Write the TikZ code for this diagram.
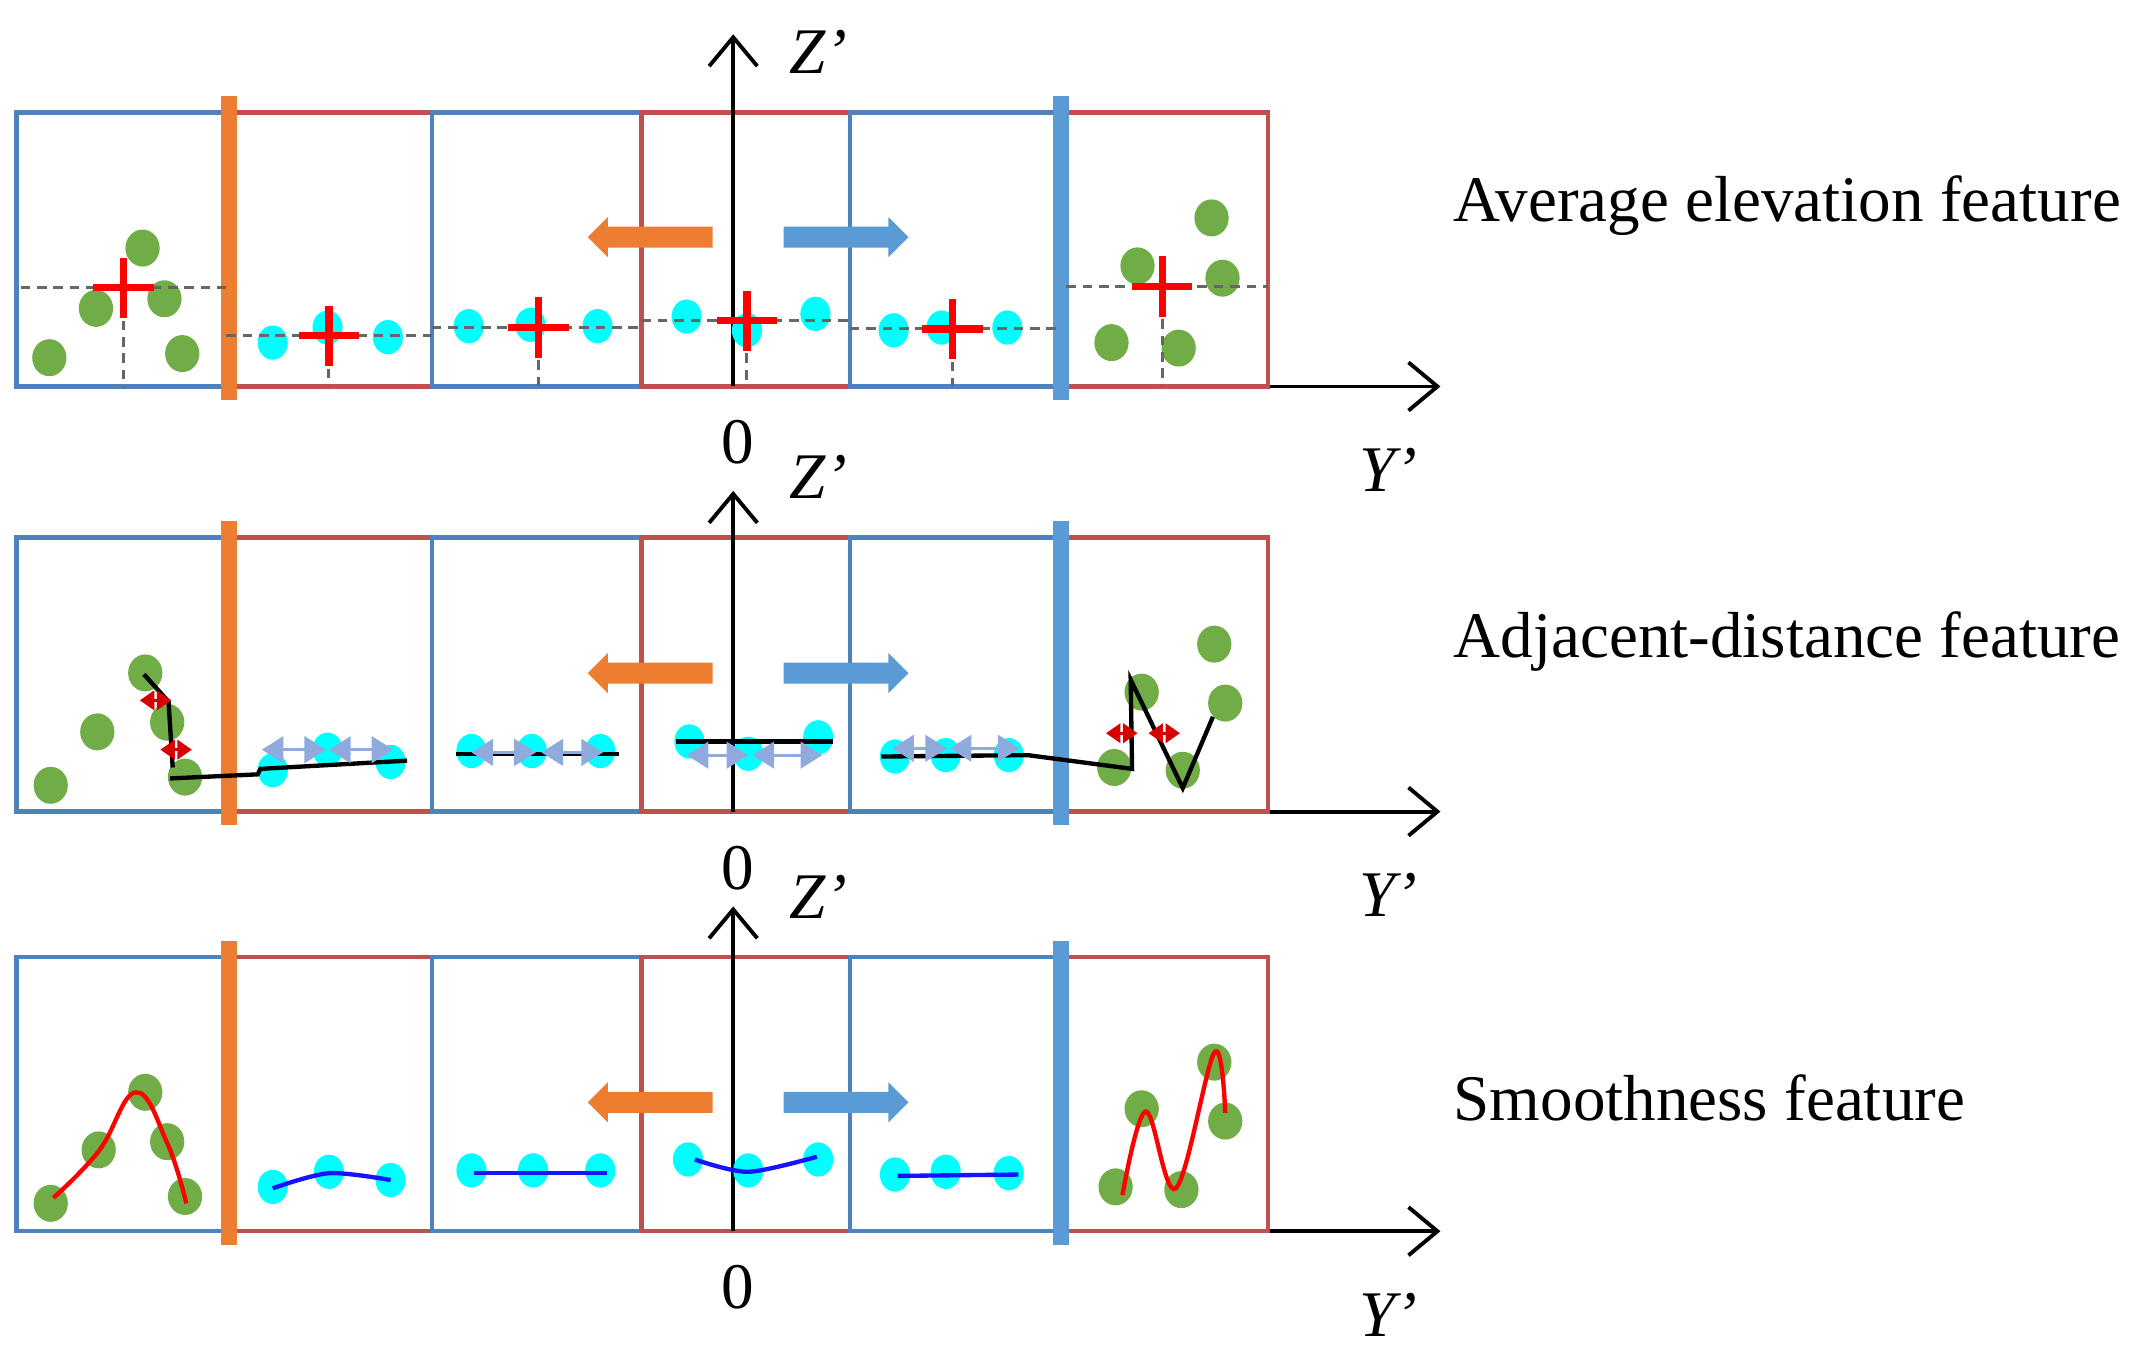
\documentclass[tikz,border=0pt]{standalone}
\usepackage{fontspec}
\setmainfont{Liberation Serif}
\usetikzlibrary{arrows.meta,shapes.arrows}
\definecolor{cellblue}{RGB}{79,129,189}
\definecolor{cellred}{RGB}{192,80,77}
\definecolor{barorange}{RGB}{237,125,49}
\definecolor{barblue}{RGB}{91,155,213}
\definecolor{dotgreen}{RGB}{112,173,71}
\definecolor{dotcyan}{RGB}{0,255,255}
\definecolor{gaplight}{RGB}{143,170,220}
\definecolor{fitblue}{RGB}{20,20,255}
\tikzset{%
  cell/.style={draw=#1, line width=0.9pt},% one window of the strip
  bar/.style={line width=3.4pt},% road edge
  axis/.style={line width=0.8pt, -{Straight Barb[length=6pt,width=10pt]}},
  label/.style={inner sep=0pt, font=\fontsize{13.5}{16}\selectfont},
  feature/.style={label, anchor=west},
  guide/.style={dash pattern=on 2pt off 1.4pt, line width=0.6pt, black!60},
  mean/.style={red, line width=1.5pt},% average point
  chain/.style={line width=0.9pt},
  gap/.style={gaplight, line width=0.6pt,
    {Triangle[length=4.5pt,width=5.5pt]}-{Triangle[length=4.5pt,width=5.5pt]}},
  jump/.style={red!85!black, line width=0.6pt,
    {Triangle[length=3pt,width=4pt]}-{Triangle[length=3pt,width=4pt]}},
  fit/.style={line width=0.9pt},
  shiftarrow/.style={single arrow, draw=none, inner xsep=0pt, inner ysep=0.07cm,
    minimum height=0.91cm, single arrow head extend=0.07cm,
    single arrow tip angle=90, text height=0pt, text depth=0pt}% moving direction
}
\newcommand*{\greendot}[1]{\fill[dotgreen] (#1) ellipse [x radius=12.5, y radius=13.5];}
\newcommand*{\cyandot}[1]{\fill[dotcyan] (#1) ellipse [x radius=11, y radius=12.5];}
\newcommand*{\meanmark}[1]{\draw[mean] (#1) ++(-22,0) -- ++(44,0) (#1) ++(0,-22) -- ++(0,44);}

\begin{document}
\begin{tikzpicture}[x=0.01cm, y=-0.01cm]
\useasboundingbox (0,0) rectangle (1568,991);

% three strips with the same windows and axes
\foreach \off/\tip/\ay [count=\p] in {0/25/173, 3.1/48/181, 6.16/45/188}{
  \begin{scope}[yshift=-\off cm]
    \coordinate (o\p) at (535,282);
    \coordinate (ytip\p) at (1051,282);
    \coordinate (ztip\p) at (535,\tip);
    \draw[axis] (12,282) -- (ytip\p);
    \foreach \xa/\xb/\c in {12/165/cellblue, 165/315/cellred, 315/468/cellblue,
      468/620/cellred, 620/773/cellblue, 773/925/cellred}
      \draw[cell=\c] (\xa,82) rectangle (\xb,282);
    \draw[bar, barorange] (167,70) -- (167,292);
    \draw[bar, barblue] (774,70) -- (774,292);
    \draw[axis] (o\p) -- (ztip\p);
    \node[shiftarrow, fill=barorange, shape border rotate=180] (left\p) at (478.25,\ay) {};
    \node[shiftarrow, fill=barblue] (right\p) at (613.5,\ay) {};
    \node[label] (z\p) at (597,38) {\textit{Z’}};
    \node[label] (zero\p) at (538,323) {0};
    \node[label] (y\p) at (1013,343) {\textit{Y’}};
  \end{scope}
}

\node[feature] (avg) at (1060,150) {Average elevation feature};
\node[feature] (adj) at (1060,468) {Adjacent-distance feature};
\node[feature] (smooth) at (1060,801) {Smoothness feature};

% average elevation
\foreach \pt in {{36,261}, {70,225}, {104,181}, {120,218}, {133,258},
  {884,159}, {830,194}, {892,203}, {811,250}, {860,254}}
  {\greendot{\pt}}
\foreach \pt in {{199,250}, {239,239}, {283,246}, {342,238}, {387,237}, {436,238},
  {501,231}, {545,241}, {595,229}, {652,241}, {687,239}, {735,239}}
  {\cyandot{\pt}}
\foreach \xa/\xb/\mx/\my in {15/165/90/210, 165/315/240/245, 315/468/393/239,
  468/620/545/234, 620/773/695/240, 778/925/848/209}{
  \draw[guide] (\xa,\my) -- (\xb,\my);
  \draw[guide] (\mx,\my) -- (\mx,282);
  \meanmark{\mx,\my}
}

% adjacent distance
\foreach \pt in {{37,573}, {71,534}, {106,491}, {122,527}, {135,567},
  {886,470}, {833,505}, {894,513}, {813,560}, {863,562}}
  {\greendot{\pt}}
\foreach \pt in {{199,562}, {239,547}, {285,556}, {344,548}, {388,548}, {438,548},
  {503,541}, {546,550}, {597,538}, {653,552}, {690,551}, {736,551}}
  {\cyandot{\pt}}
\draw[chain] (105,492) -- (123,512) -- (126,560);
\draw[chain] (124,568) -- (188,565) -- (190,561) -- (297,555);
\draw[chain] (333,550) -- (452,550);
\draw[chain] (493,541) -- (608,541);
\draw[chain] (643,552) -- (750,551) -- (826,561) -- (825,496) -- (863,575) -- (885,523);
\foreach \xa/\xb/\yy in {191/238/547, 240/287/547, 344/391/549, 395/440/549,
  501/546/551, 549/600/551, 651/691/546, 693/744/546}
  {\draw[gap] (\xa,\yy) -- (\xb,\yy);}
\foreach \xa/\xb/\yy in {102/125/511, 117/140/547, 807/830/535, 838/861/535}
  {\draw[jump] (\xa,\yy) -- (\xb,\yy);}

% smoothness
\foreach \pt in {{37,878}, {72,839}, {106,797}, {122,833}, {135,873},
  {814,866}, {833,809}, {862,868}, {886,775}, {894,818}}
  {\greendot{\pt}}
\foreach \pt in {{199,866}, {240,855}, {285,861}, {344,854}, {389,854}, {438,854},
  {502,846}, {546,854}, {597,846}, {653,857}, {690,855}, {736,856}}
  {\cyandot{\pt}}
\draw[fit, red] plot[smooth, tension=0.7] coordinates {(39,874) (72,840) (99,797) (122,834) (136,878)};
\draw[fit, red] plot[smooth, tension=0.6] coordinates {(819,872) (836,811) (858,867) (886,768) (894,812)};
\draw[fit, fitblue] plot[smooth] coordinates {(199,867) (240,856) (285,861)};
\draw[fit, fitblue] (346,856) -- (443,856);
\draw[fit, fitblue] plot[smooth] coordinates {(507,846) (546,855) (596,844)};
\draw[fit, fitblue] (655,858) -- (743,857);
\end{tikzpicture}
\end{document}
